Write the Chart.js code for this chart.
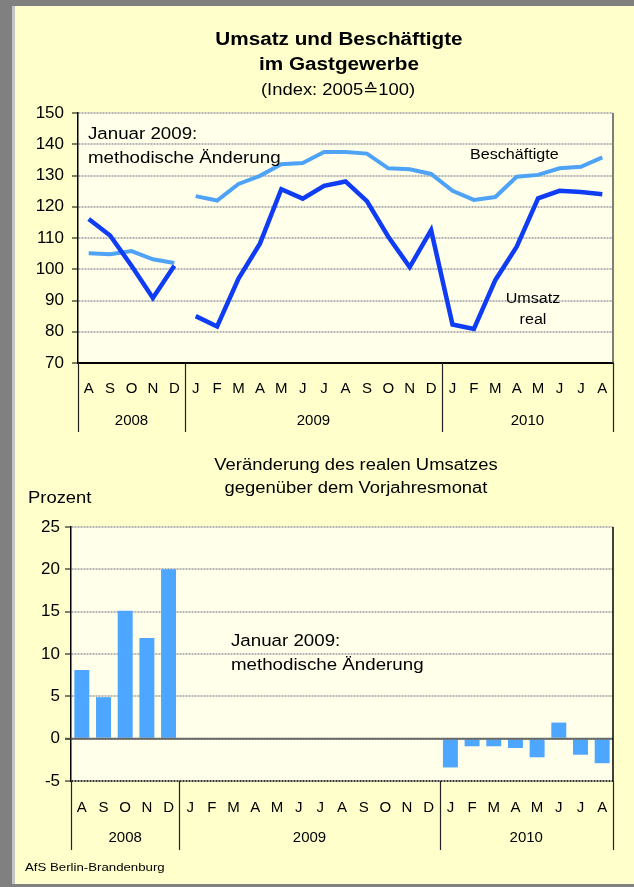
<!DOCTYPE html>
<html lang="de">
<head>
<meta charset="utf-8">
<title>Umsatz und Beschäftigte im Gastgewerbe</title>
<script src="https://cdn.jsdelivr.net/npm/chart.js@4.4.1/dist/chart.umd.min.js"></script>
<style>
  html, body { margin: 0; padding: 0; }
  body { width: 634px; height: 887px; position: relative; overflow: hidden; background: #808080; font-family: "Liberation Sans", Arial, sans-serif; color: #000; }
  #panel { position: absolute; left: 15px; top: 6px; width: 619px; height: 878px; background: #ffffcc; }
  #edge { position: absolute; left: 12px; top: 6px; width: 3px; height: 878px; background: #c4c4c4; }
  canvas { position: absolute; left: 0; top: 0; }
  .t { position: absolute; white-space: nowrap; line-height: 1; }
  .c { transform: translateX(-50%) scaleX(1.15); }
  .l { transform-origin: 0 0; transform: scaleX(1.15); }
</style>
</head>
<body>
<div id="panel"></div>
<div id="edge"></div>
<canvas id="indexChart" width="634" height="887"></canvas>
<canvas id="changeChart" width="634" height="887"></canvas>

<div class="t c" style="left:339px; top:30px; font-size:18px; font-weight:bold;">Umsatz und Beschäftigte</div>
<div class="t c" style="left:339px; top:55px; font-size:18px; font-weight:bold;">im Gastgewerbe</div>
<div class="t c" style="left:338px; top:82px; font-size:16px;">(Index: 2005≙100)</div>
<div class="t l" style="left:88px; top:125px; font-size:16.3px;">Januar 2009:</div>
<div class="t l" style="left:88px; top:149px; font-size:16.3px;">methodische Änderung</div>
<div class="t l" style="left:470px; top:147px; font-size:14px;">Beschäftigte</div>
<div class="t c" style="left:533px; top:291px; font-size:14px;">Umsatz</div>
<div class="t c" style="left:533px; top:312px; font-size:14px;">real</div>

<div class="t c" style="left:356px; top:457px; font-size:16px;">Veränderung des realen Umsatzes</div>
<div class="t c" style="left:356px; top:480px; font-size:16px;">gegenüber dem Vorjahresmonat</div>
<div class="t l" style="left:28px; top:490px; font-size:16px;">Prozent</div>
<div class="t l" style="left:231px; top:632px; font-size:16.3px;">Januar 2009:</div>
<div class="t l" style="left:231px; top:656px; font-size:16.3px;">methodische Änderung</div>
<div class="t l" style="left:25px; top:862px; font-size:11.5px;">AfS Berlin-Brandenburg</div>

<script>
const MONTHS = ["A", "S", "O", "N", "D",
  "J", "F", "M", "A", "M", "J", "J", "A", "S", "O", "N", "D",
  "J", "F", "M", "A", "M", "J", "J", "A"];
const YEARS = ["2008", "2009", "2010"];
const YEAR_MONTHS = [5, 12, 8];

// Index 2005 = 100
const UMSATZ_REAL = [116.1, 110.8, 101.1, 90.8, 101.1,
  85.0, 81.7, 97.0, 108.2, 125.6, 122.6, 126.7, 128.1, 121.8, 110.4, 100.7, 112.5,
  82.3, 80.9, 96.5, 107.2, 122.7, 125.1, 124.7, 124.0];
const BESCHAEFTIGTE = [105.1, 104.8, 105.8, 103.2, 102.0,
  123.4, 122.0, 127.3, 129.9, 133.6, 134.0, 137.5, 137.5, 137.0, 132.3, 132.0, 130.5,
  125.1, 122.2, 123.1, 129.6, 130.2, 132.3, 132.8, 135.8];

// Veränderung gegenüber Vorjahresmonat in Prozent
const VERAENDERUNG = [8.1, 4.9, 15.1, 11.9, 20.0,
  null, null, null, null, null, null, null, null, null, null, null, null,
  -3.4, -0.9, -0.9, -1.1, -2.2, 1.9, -1.9, -2.9];

// methodische Änderung: Linie zwischen Dez 2008 und Jan 2009 unterbrechen
const BREAK_AFTER = YEAR_MONTHS[0] - 1;

const FONT = "'Liberation Sans', Arial, sans-serif";
const PLOT_BG = "#ffffea";
const GRID_COLOR = "#b4b4b4";

const yearAxis = {
  id: "yearAxis",
  beforeDraw(chart) {
    const { ctx, chartArea: a } = chart;
    ctx.save();
    ctx.fillStyle = PLOT_BG;
    ctx.fillRect(a.left, a.top, a.right - a.left, a.bottom - a.top);
    ctx.restore();
  },
  afterDraw(chart, args, opts) {
    const { ctx, chartArea: a, scales: { x } } = chart;
    const half = (x.getPixelForValue(1) - x.getPixelForValue(0)) / 2;
    ctx.save();
    // right frame
    ctx.strokeStyle = opts.frameColor;
    ctx.lineWidth = 1.5;
    ctx.beginPath();
    ctx.moveTo(a.right, a.top);
    ctx.lineTo(a.right, a.bottom);
    ctx.stroke();
    // year separators and labels
    const edges = [x.getPixelForValue(0) - half];
    let start = 0;
    ctx.fillStyle = "#000";
    ctx.font = "15px " + FONT;
    ctx.textAlign = "center";
    ctx.textBaseline = "middle";
    YEARS.forEach((yr, i) => {
      const end = start + YEAR_MONTHS[i];
      const x0 = x.getPixelForValue(start) - half;
      const x1 = x.getPixelForValue(end - 1) + half;
      ctx.fillText(yr, (x0 + x1) / 2, a.bottom + opts.yearOffset);
      edges.push(x1);
      start = end;
    });
    ctx.strokeStyle = "#222";
    ctx.lineWidth = 1.2;
    edges.forEach((px) => {
      ctx.beginPath();
      ctx.moveTo(Math.round(px) + 0.5, a.bottom);
      ctx.lineTo(Math.round(px) + 0.5, a.bottom + opts.depth);
      ctx.stroke();
    });
    ctx.restore();
  }
};

const zeroLine = {
  id: "zeroLine",
  afterDatasetsDraw(chart) {
    const { ctx, chartArea: a, scales: { y } } = chart;
    const py = y.getPixelForValue(0);
    ctx.save();
    ctx.strokeStyle = "rgba(60,60,60,0.7)";
    ctx.lineWidth = 2;
    ctx.beginPath();
    ctx.moveTo(a.left - 6, py);
    ctx.lineTo(a.right, py);
    ctx.stroke();
    ctx.restore();
  }
};

function breakSegment(ctx) {
  return ctx.p0DataIndex === BREAK_AFTER ? "transparent" : undefined;
}

function lineSet(label, data, color, width) {
  return {
    label,
    data,
    borderColor: color,
    borderWidth: width,
    pointRadius: 0,
    tension: 0,
    fill: false,
    segment: { borderColor: breakSegment }
  };
}

function xAxis(padding, withBorder) {
  return {
    offset: true,
    grid: { display: false },
    border: { display: withBorder, color: "#000", width: 2 },
    ticks: { color: "#000", font: { family: FONT, size: 15 }, padding, autoSkip: false, maxRotation: 0 },
    afterFit: (s) => { s.height = 69; }
  };
}

function yAxis(min, max, step, width, padding, gridColor) {
  return {
    min,
    max,
    ticks: { stepSize: step, color: "#000", font: { family: FONT, size: 17 }, padding },
    grid: { color: gridColor, lineWidth: 2, tickColor: "#000", tickLength: 6, tickWidth: 1, borderDash: [2, 1] },
    border: { color: "#000", width: 1.5, dash: [2, 1] },
    afterFit: (s) => { s.width = width; }
  };
}

new Chart(document.getElementById("indexChart"), {
  type: "line",
  data: {
    labels: MONTHS,
    datasets: [
      lineSet("Umsatz real", UMSATZ_REAL, "#0f3cf5", 4.5),
      lineSet("Beschäftigte", BESCHAEFTIGTE, "#4ea3f7", 4)
    ]
  },
  options: {
    responsive: false,
    animation: false,
    events: [],
    layout: { padding: { top: 113, right: 21, bottom: 455, left: 0 } },
    plugins: {
      legend: { display: false },
      tooltip: { enabled: false },
      yearAxis: { yearOffset: 58, depth: 69, frameColor: "#555" }
    },
    scales: {
      x: xAxis(9, true),
      y: yAxis(70, 150, 10, 78, 8, GRID_COLOR)
    }
  },
  plugins: [yearAxis]
});

new Chart(document.getElementById("changeChart"), {
  type: "bar",
  data: {
    labels: MONTHS,
    datasets: [{
      label: "Veränderung",
      data: VERAENDERUNG,
      backgroundColor: "#4da6ff",
      borderWidth: 0,
      barPercentage: 0.69,
      categoryPercentage: 1
    }]
  },
  options: {
    responsive: false,
    animation: false,
    events: [],
    layout: { padding: { top: 527, right: 21, bottom: 37, left: 0 } },
    plugins: {
      legend: { display: false },
      tooltip: { enabled: false },
      yearAxis: { yearOffset: 57, depth: 69, frameColor: "#000" }
    },
    scales: {
      x: xAxis(10, false),
      y: yAxis(-5, 25, 5, 71, 5, (c) => (c.tick && c.tick.value === -5 ? "#333" : GRID_COLOR))
    }
  },
  plugins: [yearAxis, zeroLine]
});
</script>
</body>
</html>
